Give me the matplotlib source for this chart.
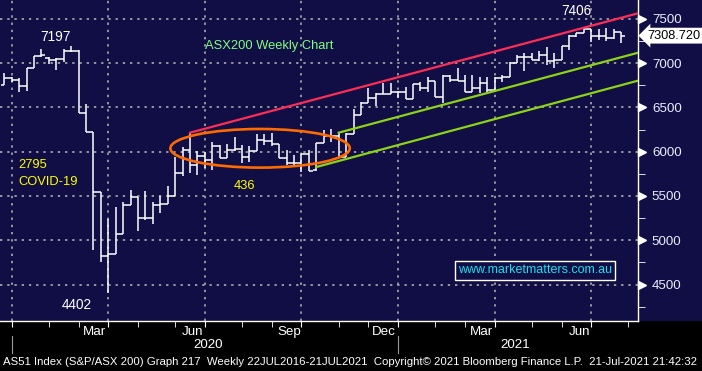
"""ASX200 weekly bar chart, Bloomberg-style, with channel lines."""
import matplotlib
matplotlib.use("Agg")
import matplotlib.pyplot as plt
import matplotlib.dates as mdates
import matplotlib.transforms as mtransforms
from matplotlib.patches import Ellipse, Rectangle
from matplotlib.ticker import FixedLocator, MultipleLocator
import numpy as np
import pandas as pd

plt.rcParams['font.family'] = ['Liberation Sans Narrow', 'Liberation Sans', 'DejaVu Sans']

NAVY = "#100e44"

# weekly bars (week ending Friday)
weeks = pd.date_range("2019-12-20", periods=84, freq="W-FRI")
opens = [6752, 6828, 6810, 6741, 6940, 7079, 7060, 7030, 7040, 7140,
         7139, 6441, 6218, 5542, 4819, 4842, 5068, 5398, 5485, 5248,
         5248, 5395, 5406, 5500, 5763, 6020, 5850, 5950, 5910, 6067,
         5930, 6019, 6030, 5936, 6011, 6132, 6120, 6083, 5925, 5868,
         5868, 5970, 5790, 6102, 6177, 6180, 5936, 6199, 6414, 6553,
         6602, 6647, 6651, 6675, 6669, 6590, 6763, 6722, 6801, 6613,
         6854, 6810, 6801, 6677, 6715, 6771, 6696, 6827, 6839, 7004,
         7070, 7065, 7034, 7090, 7027, 7034, 7192, 7305, 7335, 7380,
         7308, 7300, 7278, 7354]
highs = [6884, 6840, 6828, 6940, 7080, 7155, 7065, 7053, 7155, 7197,
         7147, 6538, 6218, 5542, 5237, 5372, 5429, 5568, 5485, 5556,
         5429, 5500, 5613, 5936, 6049, 6214, 6011, 6000, 6106, 6080,
         6083, 6169, 6075, 6068, 6196, 6196, 6207, 6083, 6019, 5962,
         5975, 6019, 6102, 6245, 6252, 6214, 6207, 6481, 6564, 6715,
         6658, 6771, 6778, 6688, 6733, 6763, 6790, 6839, 6801, 6865,
         6870, 6940, 6865, 6865, 6839, 6839, 6840, 6860, 7015, 7085,
         7110, 7117, 7140, 7185, 7110, 7192, 7316, 7342, 7406, 7380,
         7380, 7391, 7380, 7354]
lows = [6752, 6785, 6677, 6689, 6940, 7064, 6990, 6921, 7015, 7128,
        6441, 6218, 4891, 4752, 4402, 4842, 5068, 5398, 5109, 5229,
        5180, 5312, 5406, 5500, 5726, 5763, 5737, 5812, 5793, 5925,
        5925, 6008, 5868, 5887, 6011, 6075, 6068, 5925, 5850, 5850,
        5775, 5782, 5782, 6102, 6113, 5936, 5936, 6199, 6414, 6553,
        6519, 6647, 6650, 6602, 6590, 6590, 6690, 6669, 6613, 6545,
        6790, 6801, 6677, 6677, 6658, 6669, 6677, 6790, 6839, 7000,
        6913, 7034, 7027, 6978, 6940, 7034, 7147, 7290, 7335, 7241,
        7260, 7252, 7271, 7222]
closes = [6828, 6810, 6741, 6940, 7079, 7090, 7030, 7040, 7140, 7139,
          6441, 6218, 5542, 4823, 4842, 5068, 5398, 5485, 5248, 5248,
          5395, 5406, 5500, 5763, 6020, 5850, 5950, 5910, 6067, 5930,
          6019, 6030, 5936, 6011, 6132, 6120, 6083, 5925, 5868, 5868,
          5970, 5782, 6102, 6177, 6180, 5936, 6199, 6414, 6553, 6602,
          6647, 6651, 6675, 6669, 6590, 6763, 6722, 6801, 6613, 6854,
          6810, 6801, 6677, 6715, 6771, 6696, 6827, 6839, 7004, 7070,
          7065, 7034, 7090, 7027, 7034, 7192, 7305, 7335, 7380, 7308,
          7300, 7278, 7354, 7308.72]
last_price = 7308.72

# hand-drawn channel lines (date, level)
red_dates = ["2020-06-12", "2021-08-08"]
red_vals = [6214, 7561]
green_up_dates = ["2020-10-30", "2021-08-08"]
green_up_vals = [6214, 7116]
green_lo_dates = ["2020-10-09", "2021-08-08"]
green_lo_vals = [5827, 6801]

# consolidation ellipse: centre date, centre level, width (days), height (points)
box_center = ("2020-08-17", 6038)
box_width_days = 169
box_height = 436

yticks = [4500, 5000, 5500, 6000, 6500, 7000, 7500]
month_labels = ["Mar", "Jun", "Sep", "Dec", "Mar", "Jun"]
month_label_dates = ["2020-03-14", "2020-06-14", "2020-09-14",
                     "2020-12-12", "2021-03-14", "2021-06-14"]
year_labels = ["2020", "2021"]
year_label_dates = ["2020-06-29", "2021-04-14"]
year_breaks = ["2019-12-27", "2020-12-25"]


def main():
    W, H = 702, 371
    bottom_px = 320.7
    right_px = 638
    fig = plt.figure(figsize=(W / 100, H / 100), dpi=100, facecolor=NAVY)
    fig.patches.append(Rectangle((0, 0), 1, (H - bottom_px) / H, transform=fig.transFigure,
                                 facecolor="black", edgecolor="none", zorder=-5))
    ax = fig.add_axes([0, (H - bottom_px) / H, right_px / W, bottom_px / H])
    ax.set_facecolor(NAVY)

    x = mdates.date2num(weeks)
    half = 3.5
    ax.vlines(x, lows, highs, color="white", lw=1.1, zorder=3)
    ax.hlines(opens, x - half, x, color="white", lw=1.1, zorder=3)
    ax.hlines(closes, x, x + half, color="white", lw=1.1, zorder=3)

    ax.plot(pd.to_datetime(red_dates), red_vals, color="#ff2d55", lw=1.6, zorder=4)
    ax.plot(pd.to_datetime(green_up_dates), green_up_vals, color="#8cd417", lw=1.6, zorder=4)
    ax.plot(pd.to_datetime(green_lo_dates), green_lo_vals, color="#8cd417", lw=1.6, zorder=4)
    ell = Ellipse((mdates.date2num(pd.Timestamp(box_center[0])), box_center[1]),
                  box_width_days, box_height, fill=False, edgecolor="#ff6a00", lw=1.9, zorder=5)
    ax.add_patch(ell)

    ax.set_xlim(pd.Timestamp("2019-12-16"), pd.Timestamp("2021-08-08"))
    ax.set_ylim(4093, 7711)

    # x ticks: last weekly bar of each month / quarter
    fridays = pd.Series(pd.date_range("2019-12-01", "2021-08-31", freq="W-FRI"))
    month_ends = fridays.groupby(fridays.dt.to_period("M")).max()
    quarter_ends = month_ends[month_ends.dt.month.isin([3, 6, 9, 12])]
    ax.xaxis.set_major_locator(FixedLocator(mdates.date2num(quarter_ends)))
    ax.xaxis.set_minor_locator(FixedLocator(mdates.date2num(month_ends)))
    ax.tick_params(axis="x", which="both", direction="out", length=4, color="white",
                   labelbottom=False)

    ax.yaxis.tick_right()
    ax.yaxis.set_major_locator(FixedLocator(yticks))
    ax.yaxis.set_minor_locator(MultipleLocator(250))
    ax.tick_params(axis="y", which="major", length=0, pad=10, labelsize=9.6,
                   labelcolor="#e6ecff")
    ax.tick_params(axis="y", which="minor", direction="out", length=5, color="white")
    ytrans = mtransforms.blended_transform_factory(ax.transAxes, ax.transData)
    ax.plot(np.full(len(yticks), 1.006), yticks, ls="none", marker=">", ms=6,
            color="white", transform=ytrans, clip_on=False, zorder=6)

    ax.grid(True, which="major", color="#a0a0a0", linestyle=(0, (1.3, 2.7)), lw=1.3, zorder=1)
    for side in ["top", "left"]:
        ax.spines[side].set_visible(False)
    for side in ["right", "bottom"]:
        ax.spines[side].set_color("white")
        ax.spines[side].set_linewidth(1)

    # bottom date labels
    xtrans = mtransforms.blended_transform_factory(ax.transData, ax.transAxes)
    for lab, d in zip(month_labels, month_label_dates):
        ax.text(pd.Timestamp(d), -0.034, lab, transform=xtrans, color="white",
                fontsize=9.6, ha="center", va="center", clip_on=False)
    for lab, d in zip(year_labels, year_label_dates):
        ax.text(pd.Timestamp(d), -0.077, lab, transform=xtrans, color="white",
                fontsize=9.6, ha="center", va="center", clip_on=False)
    for d in year_breaks:
        ax.plot([pd.Timestamp(d)] * 2, [-0.048, -0.101], transform=xtrans,
                color="#9a9a9a", lw=0.8, clip_on=False)

    # annotations
    ax.text(pd.Timestamp("2020-02-06"), 7294, "7197", color="white", fontsize=9.8,
            ha="center", va="center")
    ax.text(pd.Timestamp("2020-02-26"), 4271, "4402", color="white", fontsize=9.8,
            ha="center", va="center")
    ax.text(pd.Timestamp("2021-06-11"), 7587, "7406", color="white", fontsize=9.8,
            ha="center", va="center")
    ax.text(pd.Timestamp("2020-01-02"), 5850, "2795", color="#ffff00", fontsize=9.3,
            ha="left", va="center")
    ax.text(pd.Timestamp("2020-01-02"), 5656, "COVID-19", color="#ffff00", fontsize=9.3,
            ha="left", va="center")
    ax.text(pd.Timestamp("2020-07-23"), 5613, "436", color="#ffff00", fontsize=9.3,
            ha="left", va="center")
    ax.text(pd.Timestamp("2020-06-26"), 7192, "ASX200 Weekly Chart", color="#80ff80",
            fontsize=9.3, ha="left", va="center")
    ax.text(pd.Timestamp("2021-05-03"), 4660, "www.marketmatters.com.au", color="#19e0f0",
            fontsize=9, ha="center", va="center", zorder=6,
            bbox=dict(boxstyle="square,pad=0.25", facecolor=NAVY, edgecolor="white", lw=1))

    # last price tag
    ax.text(1.014, last_price, f"{last_price:.3f}", transform=ytrans, color="black",
            fontsize=9.2, ha="left", va="center", clip_on=False, zorder=7,
            bbox=dict(boxstyle="larrow,pad=0.15", facecolor="white", edgecolor="none"))

    fig.text(0.004, 1 - 362 / H,
             "AS51 Index (S&P/ASX 200) Graph 217  Weekly 22JUL2016-21JUL2021  "
             "Copyright\u00a9 2021 Bloomberg Finance L.P.  21-Jul-2021 21:42:32",
             color="white", fontsize=8.2, ha="left", va="center")

    fig.savefig("out.png", dpi=100, facecolor=fig.get_facecolor())
    plt.close(fig)


if __name__ == "__main__":
    main()
